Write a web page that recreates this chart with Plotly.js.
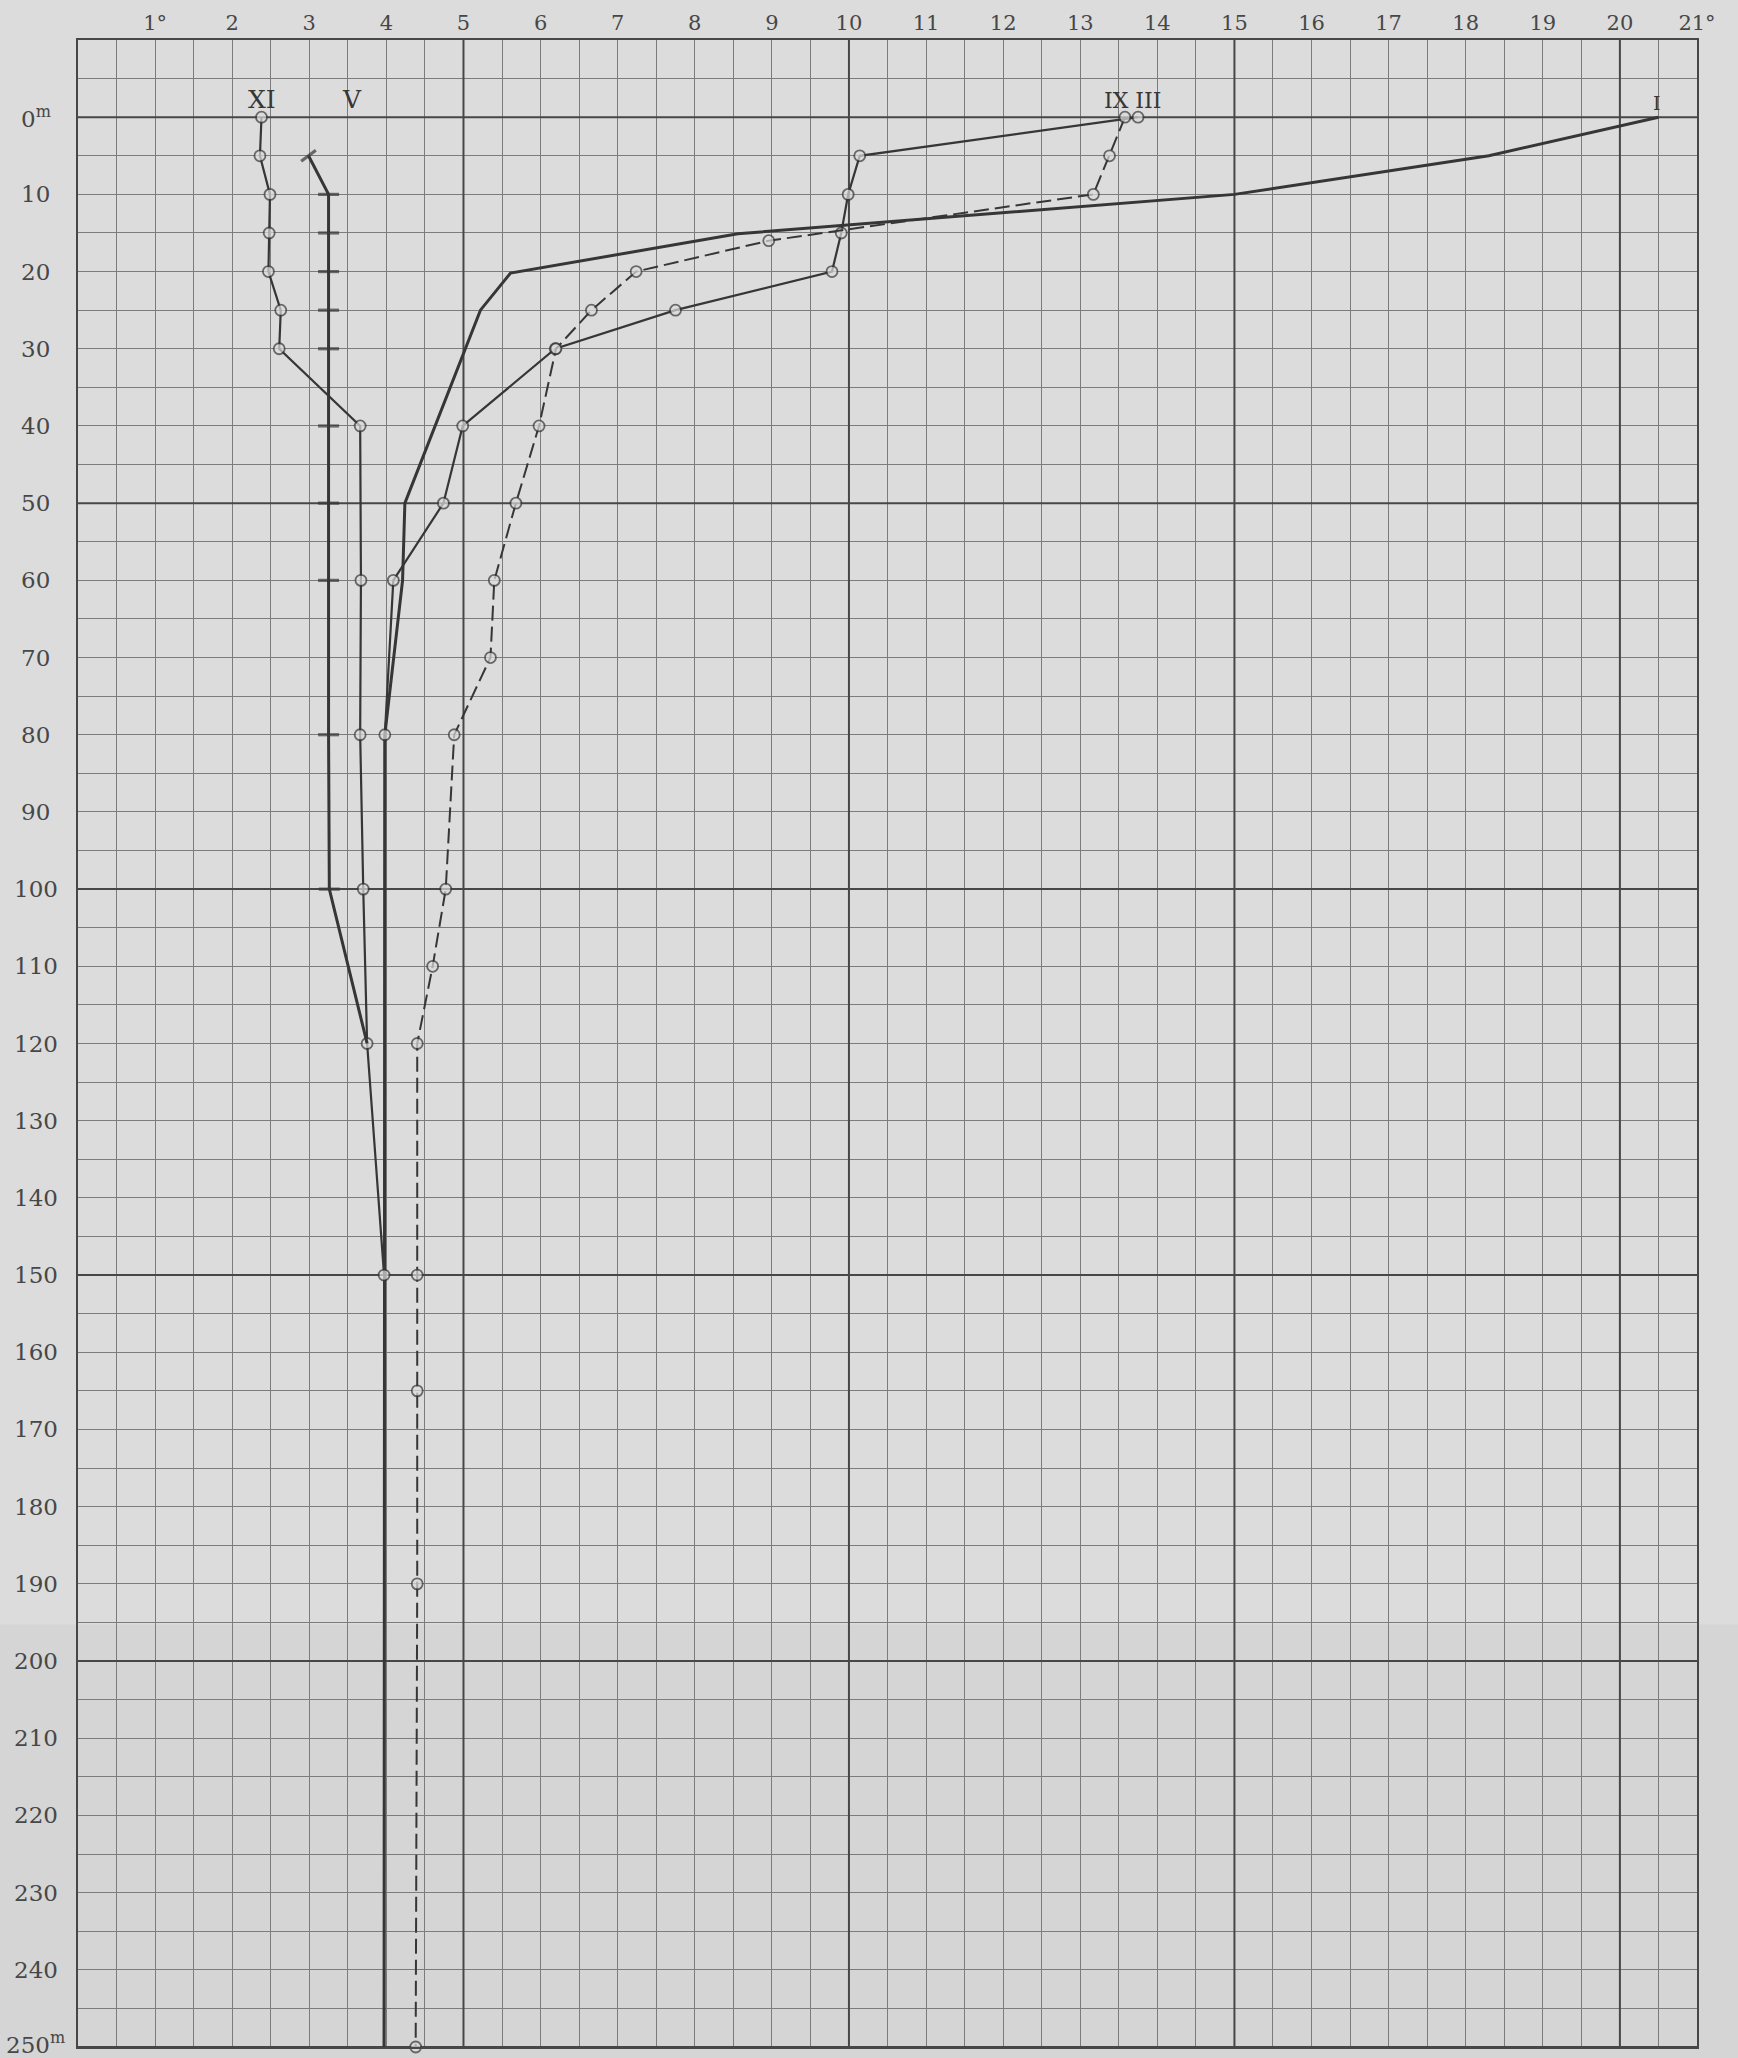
<!DOCTYPE html>
<html>
<head>
<meta charset="utf-8">
<script src="https://cdn.plot.ly/plotly-3.0.1.min.js"></script>
<style>
  html, body { margin: 0; padding: 0; background: #dcdcdc; }
  #chart { width: 1738px; height: 2058px; }
</style>
</head>
<body>
<div id="chart"></div>
<script>
// ---- Data (temperature °C vs depth m) ----
const tickTemps = [1,2,3,4,5,6,7,8,9,10,11,12,13,14,15,16,17,18,19,20,21];
const tickTempText = ['1°','2','3','4','5','6','7','8','9','10','11','12','13','14','15','16','17','18','19','20','21°'];
const depthLabels = [0,10,20,30,40,50,60,70,80,90,100,110,120,130,140,150,160,170,180,190,200,210,220,230,240,250];
const depthLabelText = ['0<sup>m</sup>','10','20','30','40','50','60','70','80','90','100','110','120','130','140','150','160','170','180','190','200','210','220','230','240','250<sup>m</sup>'];
const majorTemps = [5,10,15,20];
const majorDepths = [0,50,100,150,200,250];
const tempRange = [0,21];
const depthRange = [-10,250];

// Month I (January) – heavy line, no markers
const iDepth = [0,5,10,15.1,20.2,25,50,60,80,250];
const iTemp  = [20.5,18.3,15.0,8.56,5.61,5.22,4.24,4.21,3.98,3.97];

// Month III – solid line with circles
const iiiDepth = [0,5,10,15,20,25,30,40,50,60,80,250];
const iiiTemp  = [13.75,10.14,9.99,9.9,9.78,7.75,6.19,4.99,4.74,4.09,3.98,3.97];

// Month XI – solid line with circles
const xiDepth = [0,5,10,15,20,25,30,40,60,80,100,120,150];
const xiTemp  = [2.38,2.36,2.49,2.48,2.47,2.63,2.61,3.66,3.67,3.66,3.7,3.75,3.97];

// Month V – heavy line with dash marks
const vDepth = [5,10,15,20,25,30,40,50,60,80,100,120];
const vTemp  = [2.99,3.25,3.25,3.25,3.25,3.25,3.25,3.25,3.25,3.25,3.26,3.75];

// Month IX – dashed line with circles
const ixDepth = [0,5,10,16,20,25,30,40,50,60,70,80,100,110,120,150,165,190,250];
const ixTemp  = [13.58,13.38,13.17,8.96,7.24,6.66,6.2,5.98,5.68,5.4,5.35,4.88,4.77,4.6,4.4,4.4,4.4,4.4,4.38];

// Curve labels
const curveNames = ['XI','V','IX III','I'];
const curveLabelTemp = [2.39,3.56,13.68,20.48];
const curveLabelDepth = [-2.3,-2.3,-2.2,-1.8];
const curveLabelSize = [25,25,22,19];

// ---- Styling ----
const PAPER = '#dcdcdc';
const INK = '#363636';
const GRID = '#7c7c7c';
const MAJOR = '#474747';
const TEXT = '#474747';

function circleTrace(x, y, lineW, dash, sizes) {
  return {
    type: 'scatter', mode: 'lines+markers', x: x, y: y,
    line: {color: INK, width: lineW, dash: dash},
    marker: {symbol: 'circle', size: sizes, color: PAPER, line: {color: INK, width: 1.8}},
    hoverinfo: 'skip', showlegend: false, cliponaxis: false
  };
}

const traces = [];
traces.push({
  type: 'scatter', mode: 'lines', x: iTemp, y: iDepth,
  line: {color: INK, width: 3}, hoverinfo: 'skip', showlegend: false
});
traces.push(circleTrace(iiiTemp, iiiDepth, 2.2, 'solid',
  iiiDepth.map((d, k) => k < iiiDepth.length - 1 ? 11 : 0)));
traces.push(circleTrace(xiTemp, xiDepth, 2.2, 'solid', xiDepth.map(() => 11)));
traces.push({
  type: 'scatter', mode: 'lines+markers', x: vTemp, y: vDepth,
  line: {color: INK, width: 3},
  marker: {
    symbol: vDepth.map((d, k) => k === 0 ? 'line-ne' : 'line-ew'),
    angle: vDepth.map((d, k) => k === 0 ? 8 : 0),
    size: vDepth.map((d, k) => k === vDepth.length - 1 ? 0 : (k === 0 ? 13 : 15)),
    color: INK, line: {color: INK, width: 3.2}
  },
  hoverinfo: 'skip', showlegend: false
});
traces.push(circleTrace(ixTemp, ixDepth, 2, '15px,6px', ixDepth.map(() => 11)));

const shapes = [];
// slightly darker fold band on the lower part of the sheet
shapes.push({type: 'rect', xref: 'paper', yref: 'paper', x0: -0.06, x1: 1.04, y0: -0.01, y1: 0.2105,
  fillcolor: 'rgba(0,0,0,0.03)', line: {width: 0}, layer: 'below'});
majorTemps.forEach(t => shapes.push({type: 'line', xref: 'x', yref: 'y', x0: t, x1: t,
  y0: depthRange[0], y1: depthRange[1], line: {color: MAJOR, width: 2}, layer: 'between'}));
majorDepths.forEach(d => shapes.push({type: 'line', xref: 'x', yref: 'y', x0: tempRange[0], x1: tempRange[1],
  y0: d, y1: d, line: {color: MAJOR, width: 2}, layer: 'between'}));

const annotations = [];
depthLabels.forEach((d, k) => annotations.push({
  xref: 'paper', yref: 'y', x: -0.0262, y: d, text: depthLabelText[k], showarrow: false,
  xanchor: 'center', yanchor: 'middle', borderpad: 0,
  yshift: k === depthLabels.length - 1 ? 4 : 0,
  font: {family: 'DejaVu Serif', size: 23, color: TEXT}
}));
curveNames.forEach((n, k) => annotations.push({
  xref: 'x', yref: 'y', x: curveLabelTemp[k], y: curveLabelDepth[k], text: n, showarrow: false,
  xanchor: 'center', yanchor: 'middle',
  font: {family: 'DejaVu Serif', size: curveLabelSize[k], color: INK}
}));

const layout = {
  width: 1738, height: 2058,
  margin: {l: 78, r: 41, t: 40, b: 11, pad: 0},
  paper_bgcolor: PAPER, plot_bgcolor: 'rgba(0,0,0,0)',
  showlegend: false,
  xaxis: {
    range: tempRange, side: 'top', tickmode: 'array', tickvals: tickTemps, ticktext: tickTempText,
    ticks: '', ticklabelstandoff: 0, showgrid: true, gridcolor: GRID, gridwidth: 1,
    minor: {tickmode: 'linear', tick0: 0, dtick: 0.5, showgrid: true, gridcolor: GRID, gridwidth: 1, ticks: ''},
    zeroline: false, showline: true, mirror: true, linecolor: MAJOR, linewidth: 1.6,
    tickfont: {family: 'DejaVu Serif', size: 21, color: TEXT}, fixedrange: true
  },
  yaxis: {
    range: [depthRange[1], depthRange[0]], tickmode: 'array', tickvals: depthLabels,
    showticklabels: false, ticks: '', showgrid: true, gridcolor: GRID, gridwidth: 1,
    minor: {tickmode: 'linear', tick0: 0, dtick: 5, showgrid: true, gridcolor: GRID, gridwidth: 1, ticks: ''},
    zeroline: false, showline: true, mirror: true, linecolor: MAJOR, linewidth: 1.6, fixedrange: true
  },
  shapes: shapes,
  annotations: annotations
};

Plotly.newPlot('chart', traces, layout, {staticPlot: true, displayModeBar: false});
</script>
</body>
</html>
